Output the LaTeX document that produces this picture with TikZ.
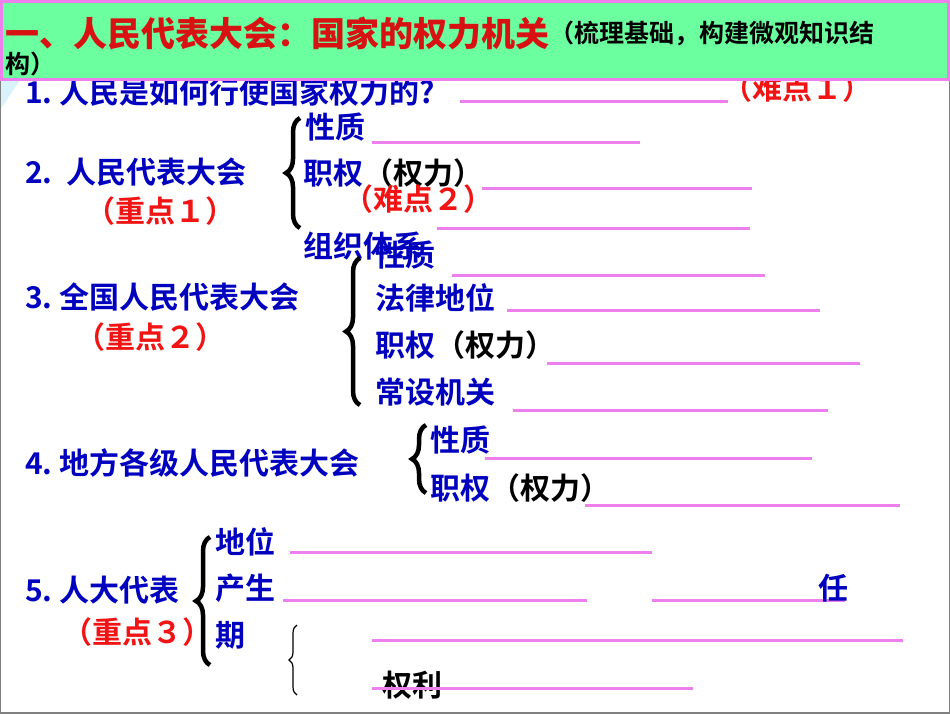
\documentclass[tikz,border=0pt]{standalone}
\usepackage{fontspec}
\newfontfamily\cjk{Noto Sans CJK SC}[BoldFont={* Bold}]
\newfontfamily\cjkb{Noto Sans CJK SC Black}
\usetikzlibrary{decorations.pathreplacing}
\definecolor{tblue}{RGB}{0,0,190}
\definecolor{tred}{RGB}{240,20,20}
\definecolor{blank}{RGB}{238,128,238}
\definecolor{tgreen}{RGB}{108,255,160}
\begin{document}
\begin{tikzpicture}[x=1pt,y=-1pt,
  t/.style={anchor=west,inner sep=0pt,font=\cjk\bfseries\fontsize{30}{30}\selectfont,text=tblue},
  r/.style={t,text=tred},
  k/.style={t,text=black},
  bl/.style={draw=blank,line width=3pt},
  br/.style={decorate,decoration={brace,amplitude=14pt,mirror},line width=4.5pt},
  brt/.style={decorate,decoration={brace,amplitude=8pt,mirror},line width=1.2pt}]
\useasboundingbox (0,0) rectangle (950,713);
\fill[white] (0,0) rectangle (950,713);
\fill[cyan!15] (0,80) -- (20,80) -- (0,110) -- cycle;
\draw[gray,line width=1.5pt] (0,0) rectangle (950,713);
% row 1
\node[t] (q1) at (25,92) {1.~人民是如何行使国家权力的?};
\draw[bl] (460,101) coordinate (l1a) -- (728,101) coordinate (l1b);
\node[r] (d1) at (722,88) {（难点１）};
% title box
\fill[tgreen] (0,0) rectangle (950,80);
\draw[blank,line width=3pt] (1.5,1.5) rectangle (948.5,79);
\node[anchor=west,inner sep=0pt,font=\cjkb\fontsize{34}{34}\selectfont,text=tred!90!black] (title) at (5,33) {一、人民代表大会：国家的权力机关};
\node[anchor=west,inner sep=0pt,font=\cjk\bfseries\fontsize{25}{25}\selectfont] (sub) at (title.east) {（梳理基础，构建微观知识结};
\node[anchor=west,inner sep=0pt,font=\cjk\bfseries\fontsize{25}{25}\selectfont] (sub2) at (5,64) {构）};
% row 2
\node[t] (n2) at (25,172) {2.~~人民代表大会};
\node[r] (z1) at (85,211) {（重点１）};
\draw[br] (300,118) coordinate (b2a) -- (300,228) coordinate (b2b);
\node[t] (x2a) at (305,127) {性质};
\draw[bl] (372,142) coordinate (l2a) -- (640,142) coordinate (l2b);
\node[t] (x2b) at (303,173) {职权\textcolor{black}{（权力）}};
\draw[bl] (482,188) coordinate (l2c) -- (752,188) coordinate (l2d);
\node[r] (d2) at (343,199) {（难点２）};
\draw[bl] (437,228) coordinate (l2e) -- (750,228) coordinate (l2f);
\node[t] (x2c) at (303,246) {组织体系};
% row 3
\node[t] (n3) at (25,297) {3.~全国人民代表大会};
\node[r] (z2) at (75,337) {（重点２）};
\draw[br] (360,258) coordinate (b3a) -- (360,405) coordinate (b3b);
\node[t] (x3a) at (375,255) {性质};
\draw[bl] (452,275) coordinate (l3a) -- (765,275) coordinate (l3b);
\node[t] (x3b) at (375,298) {法律地位};
\draw[bl] (507,310) coordinate (l3c) -- (820,310) coordinate (l3d);
\node[t] (x3c) at (375,345) {职权\textcolor{black}{（权力）}};
\draw[bl] (547,363) coordinate (l3e) -- (860,363) coordinate (l3f);
\node[t] (x3d) at (375,392) {常设机关};
\draw[bl] (513,410) coordinate (l3g) -- (828,410) coordinate (l3h);
% row 4
\node[t] (n4) at (25,463) {4.~地方各级人民代表大会};
\draw[br] (426,425) coordinate (b4a) -- (426,493) coordinate (b4b);
\node[t] (x4a) at (430,440) {性质};
\draw[bl] (485,458) coordinate (l4a) -- (812,458) coordinate (l4b);
\node[t] (x4b) at (430,488) {职权\textcolor{black}{（权力）}};
\draw[bl] (585,505) coordinate (l4c) -- (900,505) coordinate (l4d);
% row 5
\node[t] (n5) at (25,590) {5.~人大代表};
\node[r] (z3) at (62,632) {（重点３）};
\draw[br] (210,537) coordinate (b5a) -- (210,665) coordinate (b5b);
\node[t] (x5a) at (215,542) {地位};
\draw[bl] (290,552) coordinate (l5a) -- (652,552) coordinate (l5b);
\node[t] (x5b) at (215,588) {产生};
\draw[bl] (283,600) coordinate (l5c) -- (587,600) coordinate (l5d);
\draw[bl] (652,600) coordinate (l5e) -- (845,600) coordinate (l5f);
\node[t] (x5c) at (818,588) {任};
\node[t] (x5d) at (215,635) {期};
\draw[brt] (297,625) coordinate (b6a) -- (297,695) coordinate (b6b);
\draw[bl] (372,640) coordinate (l5g) -- (903,640) coordinate (l5h);
\node[k] (x5e) at (382,685) {权利};
\draw[bl] (372,688) coordinate (l5i) -- (693,688) coordinate (l5j);
\end{tikzpicture}
\end{document}
